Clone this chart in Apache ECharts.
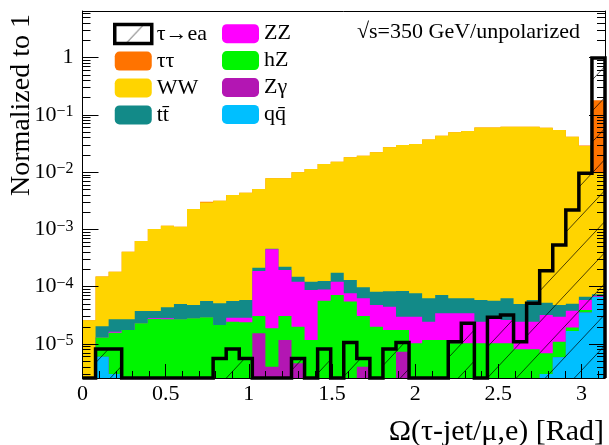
<!DOCTYPE html>
<html><head><meta charset="utf-8">
<script src="https://cdn.jsdelivr.net/npm/echarts@6/dist/echarts.min.js"></script>
<style>html,body{margin:0;padding:0;background:#fff}#c{width:609px;height:445px}</style>
</head><body><div id="c"></div>
<script>
// ---- axis ranges / binning ----
const xMin = 0, xMax = Math.PI, nBins = 40;
const yMin = 2.55e-6, yMax = 6.5;

// ---- data (per-bin normalized yields, bins 0..39) ----
const sigTauEA = [0,8.2e-6,8.2e-6,0,0,0,0,0,0,0,5.6e-6,8.2e-6,5.6e-6,0,0,0,5.6e-6,0,8.2e-6,0,
  1.06e-5,5.6e-6,0,8.2e-6,1.06e-5,0,0,0,1.1e-5,2.3e-5,0,2.92e-5,3.21e-5,1.1e-5,5.13e-5,1.9e-4,5.34e-4,2.18e-3,9.53e-3,0.985];
const bkgTauTau = [0,0,0,0,0,0,0,0,0,7e-5,0,0,0,0,0,0,0,0,0,0,
  0,0,0,0,0,0,0,0,0,0,0,0,0,0,0,0,0,0,8e-4,0.171];
const bkgWW = [2.6e-5,1.3e-4,1.56e-4,3.81e-4,5.9e-4,9.8e-4,1.12e-3,1.06e-3,2.22e-3,2.91e-3,3.12e-3,3.92e-3,4.31e-3,4.86e-3,7.34e-3,7.58e-3,9.78e-3,1.12e-2,1.37e-2,1.5e-2,
  1.8e-2,1.92e-2,2.21e-2,2.7e-2,2.96e-2,3.08e-2,3.72e-2,4.3e-2,4.94e-2,5.2e-2,6.04e-2,6.04e-2,6.18e-2,6.18e-2,6.18e-2,5.95e-2,5.43e-2,4.14e-2,2.84e-2,9.46e-3];
const bkgTTbar = [0,7.4e-6,1.06e-5,9.4e-6,1.47e-5,9.6e-6,1.56e-5,2.29e-5,2.0e-5,2.71e-5,2.98e-5,2.75e-5,2.98e-5,2.7e-5,1.1e-5,2.7e-5,2.8e-5,3.45e-5,3.67e-5,5.3e-5,
  5.4e-5,3.5e-5,3.4e-5,3.9e-5,5.4e-5,4.7e-5,3.83e-5,3.73e-5,2.85e-5,2.85e-5,3.41e-5,2.89e-5,3.66e-5,2.54e-5,3.41e-5,2.05e-5,1.81e-5,1.25e-5,8.2e-6,5.7e-6];
const bkgZZ = [0,0,7e-7,0,0,8e-7,1.1e-6,0,0,0,0,4.3e-6,4.9e-6,1.57e-4,4.31e-4,1.65e-4,1.02e-4,7.58e-5,3.23e-5,5.0e-5,
  2.2e-5,3.2e-5,2.8e-5,2.7e-5,1.23e-5,1.96e-5,1.28e-5,2.26e-5,2.4e-5,2.4e-5,1.42e-5,1.78e-5,1.59e-5,1.64e-5,1.64e-5,2.52e-5,1.89e-5,1.86e-5,1.94e-5,2e-6];
const bkgHZ = [0,7.0e-6,1.27e-5,1.76e-5,2.3e-5,2.73e-5,2.7e-5,2.7e-5,2.81e-5,2.92e-5,2.15e-5,2.45e-5,2.39e-5,1.54e-5,1.48e-5,1.91e-5,1.54e-5,1.17e-5,5.7e-5,7.16e-5,
  5.5e-5,2.68e-5,2.0e-5,1.76e-5,1.03e-5,1.03e-5,1.17e-5,1.17e-5,1.03e-5,1.03e-5,1.03e-5,1.03e-5,1.03e-5,8.1e-6,8.1e-6,3.9e-6,5.1e-6,2.6e-6,3.9e-6,0];
const bkgZGamma = [0,0,0,0,0,0,0,0,0,0,0,0,0,1.54e-5,4.0e-6,1.17e-5,4.6e-6,0,0,0,
  0,4.0e-6,0,0,7.3e-6,0,0,0,0,0,0,0,0,0,0,0,0,0,0,0];
const bkgQQbar = [0,6.0e-6,3e-6,0,0,0,0,0,0,0,0,0,0,0,0,0,0,0,0,0,
  0,0,0,0,0,0,0,0,0,0,0,0,0,0,0,3e-6,5.9e-6,1.68e-5,3.53e-5,6.6e-5];

const xTickStep = 0.5;
const legendCol1 = ['τ→ea', 'ττ', 'WW', 'tt̄'];
const legendCol2 = ['ZZ', 'hZ', 'Zγ', 'qq̄'];

// ---- styles ----
const FONT = 'Liberation Serif';
const colors = {'ττ':'#ff7300','WW':'#ffd400','tt̄':'#128a88','ZZ':'#ff00ff','hZ':'#00f500','Zγ':'#b316b3','qq̄':'#00bfff'};

const edges = Array.from({length: nBins + 1}, (_, k) => xMin + (xMax - xMin) * k / nBins);

// stack (bottom -> top) and cumulative sums for THStack-like drawing
const stackDef = [['qq̄', bkgQQbar], ['Zγ', bkgZGamma], ['hZ', bkgHZ], ['ZZ', bkgZZ], ['tt̄', bkgTTbar], ['WW', bkgWW], ['ττ', bkgTauTau]];
const cum = {};
let run = new Array(nBins).fill(0);
stackDef.forEach(([name, arr]) => { run = run.map((r, k) => r + arr[k]); cum[name] = run; });

function stepPoints(api, vals) {
  const pts = [api.coord([edges[0], yMin])];
  for (let k = 0; k < nBins; k++) {
    const v = Math.min(Math.max(vals[k], yMin), yMax);
    pts.push(api.coord([edges[k], v]));
    pts.push(api.coord([edges[k + 1], v]));
  }
  pts.push(api.coord([edges[nBins], yMin]));
  return pts;
}

function makeHatch(w, h) {
  const c = document.createElement('canvas');
  c.width = w; c.height = h;
  const g = c.getContext('2d');
  g.strokeStyle = 'rgba(0,0,0,0.7)'; g.lineWidth = 1;
  g.beginPath();
  g.moveTo(0, h); g.lineTo(w, 0);
  g.moveTo(-w, h); g.lineTo(0, 0);
  g.moveTo(w, h); g.lineTo(2 * w, 0);
  g.stroke();
  return c;
}
const hatch = {image: makeHatch(29, 31), repeat: 'repeat'};

const series = [];
// draw from the top of the stack down, each filled from the axis bottom (like ROOT THStack)
stackDef.slice().reverse().forEach(([name]) => {
  const vals = cum[name];
  series.push({
    type: 'custom', name, coordinateSystem: 'cartesian2d', silent: true,
    itemStyle: {color: colors[name]},
    data: [[1, 1e-3]],
    renderItem: (params, api) => ({type: 'polygon', shape: {points: stepPoints(api, vals)}, style: {fill: colors[name]}})
  });
});
series.push({
  type: 'custom', name: 'τ→ea', coordinateSystem: 'cartesian2d', silent: true,
  itemStyle: {color: '#fff'}, z: 3,
  data: [[1, 1e-3]],
  renderItem: (params, api) => {
    const pts = stepPoints(api, sigTauEA);
    return {type: 'group', children: [
      {type: 'polygon', shape: {points: pts}, style: {fill: hatch}},
      {type: 'polyline', shape: {points: pts}, style: {stroke: '#000', lineWidth: 3.5, fill: null}}
    ]};
  }
});

function yLabel(v) {
  const e = Math.round(Math.log10(v));
  if (e === 0) return '{b|1}';
  return '{b|10}{s|' + (e < 0 ? '−' : '') + Math.abs(e) + '}';
}

const legendCommon = {
  orient: 'vertical', top: 22.7, itemWidth: 37, itemHeight: 19, itemGap: 4.9, padding: 0,
  selectedMode: false,
  textStyle: {fontFamily: FONT, fontSize: 22, color: '#000', lineHeight: 19}
};
const legItem = (name) => name === 'τ→ea'
  ? {name, icon: 'rect', itemStyle: {color: hatch, borderColor: '#000', borderWidth: 3.5}}
  : {name, icon: 'roundRect', itemStyle: {color: colors[name], borderWidth: 0}};

const chart = echarts.init(document.getElementById('c'), null, {renderer: 'canvas'});
chart.setOption({
  animation: false,
  backgroundColor: '#fff',
  grid: {left: 82.5, right: 4, top: 11, bottom: 67, outerBoundsMode: 'none', containLabel: false},
  legend: [
    Object.assign({left: 113, data: legendCol1.map(legItem)}, legendCommon),
    Object.assign({left: 222, data: legendCol2.map(legItem)}, legendCommon)
  ],
  xAxis: [{
    type: 'value', min: xMin, max: xMax, interval: xTickStep, z: 10,
    axisLine: {show: true, onZero: false, lineStyle: {color: '#000', width: 1}},
    axisTick: {show: true, inside: true, length: 14, lineStyle: {color: '#000'}},
    minorTick: {show: true, splitNumber: 5, length: 7, lineStyle: {color: '#000'}},
    splitLine: {show: false},
    axisLabel: {showMaxLabel: false, margin: 5, fontFamily: FONT, fontSize: 22, color: '#000',
      formatter: v => String(v)}
  }, {
    type: 'value', position: 'top', min: xMin, max: xMax, z: 10,
    axisLine: {show: true, onZero: false, lineStyle: {color: '#000', width: 1}},
    axisTick: {show: false}, axisLabel: {show: false}, splitLine: {show: false}
  }],
  yAxis: [{
    type: 'log', min: yMin, max: yMax, z: 10,
    axisLine: {show: true, onZero: false, lineStyle: {color: '#000', width: 1}},
    axisTick: {show: true, inside: true, length: 16, lineStyle: {color: '#000'}},
    minorTick: {show: true, splitNumber: 9, length: 8, lineStyle: {color: '#000'}},
    splitLine: {show: false},
    axisLabel: {showMinLabel: false, showMaxLabel: false, margin: 9, formatter: yLabel,
      rich: {b: {fontFamily: FONT, fontSize: 22, color: '#000', lineHeight: 22},
             s: {fontFamily: FONT, fontSize: 16, color: '#000', verticalAlign: 'top', lineHeight: 22}}}
  }, {
    type: 'log', position: 'right', min: yMin, max: yMax, z: 10,
    axisLine: {show: true, onZero: false, lineStyle: {color: '#000', width: 1}},
    axisTick: {show: true, inside: true, length: 16, lineStyle: {color: '#000'}},
    minorTick: {show: true, splitNumber: 9, length: 8, lineStyle: {color: '#000'}},
    splitLine: {show: false}, axisLabel: {show: false}
  }],
  graphic: [
    {type: 'text', x: 22, y: 105, rotation: Math.PI / 2,
      style: {text: 'Normalized to 1', font: '28px "Liberation Serif"', fill: '#000', textAlign: 'center', textVerticalAlign: 'middle'}},
    {type: 'text', x: 604, y: 432,
      style: {text: 'Ω(τ-jet/μ,e) [Rad]', font: '30px "Liberation Serif"', fill: '#000', textAlign: 'right', textVerticalAlign: 'middle'}},
    {type: 'text', x: 580, y: 32,
      style: {text: '√s=350 GeV/unpolarized', font: '22px "Liberation Serif"', fill: '#000', textAlign: 'right', textVerticalAlign: 'middle'}}
  ],
  series
});
</script></body></html>
